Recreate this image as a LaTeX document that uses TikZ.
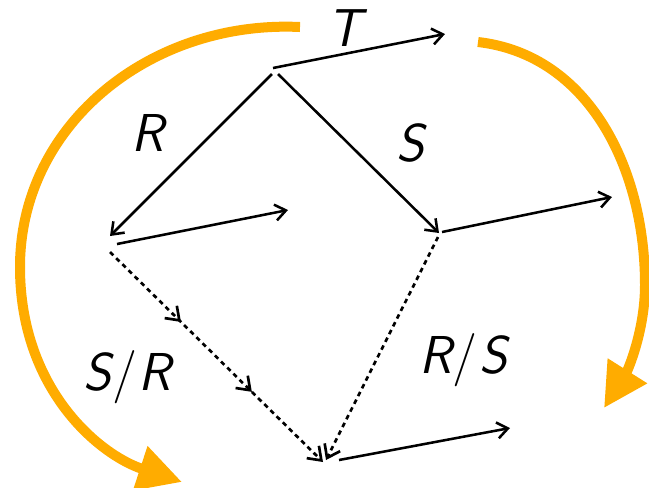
\documentclass[tikz,border=0pt]{standalone}
\usetikzlibrary{arrows.meta,decorations.markings}
\definecolor{amber}{RGB}{255,172,0}
\begin{document}
\begin{tikzpicture}[x=0.75pt,y=-0.75pt,
  vec/.style={line width=1.9pt,-{Straight Barb[length=8pt,width=12pt,line width=1.9pt]}},
  dotvec/.style={line width=2pt,dash pattern=on 3.5pt off 3pt,-{Straight Barb[length=9pt,width=13pt,line width=2pt]}},
  midarrows/.style={postaction={decorate},decoration={markings,
     mark=at position 0.333 with {\arrow{Straight Barb[length=9pt,width=13pt,line width=2pt]}},
     mark=at position 0.666 with {\arrow{Straight Barb[length=9pt,width=13pt,line width=2pt]}}}},
  swirl/.style={draw=amber,line width=7.5pt,-{Triangle[length=33pt,width=33pt]},fill=none},
  lbl/.style={font=\fontsize{40}{48}\selectfont\sffamily\itshape,inner sep=0pt}]
\useasboundingbox (0,0) rectangle (649,487);
% points
\coordinate (At) at (273,68);
\coordinate (Al) at (272,74);
\coordinate (Ar) at (278,74);
\coordinate (Tend) at (445,34);
\coordinate (B) at (110,236);
\coordinate (Bs) at (117,244);
\coordinate (Bend) at (288,210);
\coordinate (Bd) at (110,252);
\coordinate (C) at (439,233);
\coordinate (Cs) at (442,232);
\coordinate (Cd) at (438,237);
\coordinate (Cend) at (612,197);
\coordinate (D) at (323,462);
\coordinate (Dr) at (326,460);
\coordinate (Ds) at (339,460);
\coordinate (Dend) at (510,428);
% orange swirls
\coordinate (L0) at (300,27);
\coordinate (L1) at (20,267);
\coordinate (L2) at (182,482);
\coordinate (R0) at (478,42);
\coordinate (R1) at (645,285);
\coordinate (R2) at (604,408);
\draw[swirl] (L0) .. controls (150,20) and (20,125) .. (L1)
  .. controls (20,390) and (100,455) .. (L2);
\draw[swirl] (R0) .. controls (590,55) and (645,170) .. (R1)
  .. controls (645,330) and (628,370) .. (R2);
% black vectors
\draw[vec] (At) -- (Tend);
\draw[vec] (Al) -- (B);
\draw[vec] (Ar) -- (C);
\draw[vec] (Bs) -- (Bend);
\draw[vec] (Cs) -- (Cend);
\draw[vec] (Ds) -- (Dend);
\draw[dotvec,midarrows] (Bd) -- (D);
\draw[dotvec] (Cd) -- (Dr);
% labels
\node[lbl] (lT) at (345,28) {T};
\node[lbl] (lR) at (148,133) {R};
\node[lbl] (lS) at (410,143) {S};
\node[lbl] (lSR) at (127,377) {S\kern1pt{\upshape/}\kern1pt R};
\node[lbl] (lRS) at (463,360) {R\kern1pt{\upshape/}\kern1pt S};
\end{tikzpicture}
\end{document}
